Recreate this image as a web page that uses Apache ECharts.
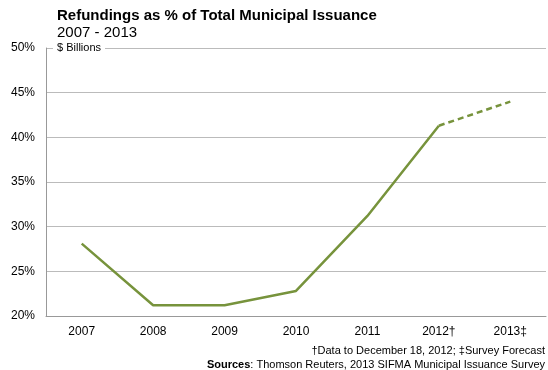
<!DOCTYPE html>
<html>
<head>
<meta charset="utf-8">
<script src="https://cdn.jsdelivr.net/npm/echarts@6/dist/echarts.min.js"></script>
<style>
html, body { margin: 0; padding: 0; background: #fff; }
#chart { width: 548px; height: 370px; }
</style>
</head>
<body>
<div id="chart"></div>
<script>
var years = ['2007', '2008', '2009', '2010', '2011', '2012\u2020', '2013\u2021']
var actual = [28.1, 21.2, 21.2, 22.8, 31.2, 41.3, null]
var forecast = [null, null, null, null, null, 41.3, 44.0]
var yTicks = [20, 25, 30, 35, 40, 45, 50]

var green = '#77933c'
var font = 'Arial, "Liberation Sans", sans-serif'

var myChart = echarts.init(document.getElementById('chart'))

var option = {
	animation: false,
	textStyle: { fontFamily: font },
	title: {
		text: 'Refundings as % of Total Municipal Issuance',
		subtext: '2007 - 2013',
		left: 52,
		top: 3,
		itemGap: 2,
		textStyle: { fontSize: 15, fontWeight: 'bold', color: '#000', fontFamily: font },
		subtextStyle: { fontSize: 15, color: '#000', fontFamily: font }
	},
	grid: { left: 46, right: 2, top: 48, bottom: 54 },
	xAxis: {
		type: 'category',
		data: years,
		boundaryGap: true,
		axisLine: { lineStyle: { color: '#999', width: 1 } },
		axisTick: { show: false },
		axisLabel: { color: '#000', fontSize: 12, margin: 10, fontFamily: font }
	},
	yAxis: {
		type: 'value',
		min: yTicks[0],
		max: yTicks[yTicks.length - 1],
		interval: 5,
		axisLine: { show: true, lineStyle: { color: '#999', width: 1 } },
		axisTick: { show: false },
		splitLine: { lineStyle: { color: '#bbb', width: 1 } },
		axisLabel: { color: '#000', fontSize: 12, margin: 11, fontFamily: font,
			formatter: function (v) { return v + '%' } }
	},
	graphic: [{
		type: 'text',
		left: 53,
		top: 42,
		z: 100,
		style: {
			text: '$ Billions',
			fontSize: 11,
			fontFamily: font,
			fill: '#000',
			backgroundColor: '#fff',
			padding: [0, 4, 0, 4]
		}
	}, {
		type: 'text',
		right: 3,
		top: 345,
		style: {
			text: '\u2020Data to December 18, 2012; \u2021Survey Forecast',
			fontSize: 11,
			fontFamily: font,
			fill: '#000'
		}
	}, {
		type: 'text',
		right: 3,
		top: 359,
		style: {
			text: '{b|Sources}: Thomson Reuters, 2013 SIFMA Municipal Issuance Survey',
			fontSize: 11,
			fontFamily: font,
			fill: '#000',
			rich: { b: { fontWeight: 'bold', fontSize: 11, fontFamily: font } }
		}
	}],
	series: [
		{
			name: 'Refundings',
			type: 'line',
			data: actual,
			showSymbol: false,
			symbol: 'none',
			lineStyle: { color: green, width: 2.5 }
		},
		{
			name: 'Forecast',
			type: 'line',
			data: forecast,
			showSymbol: false,
			symbol: 'none',
			lineStyle: { color: green, width: 2.5, type: [6, 4] }
		}
	]
}

myChart.setOption(option, true)
</script>
</body>
</html>
